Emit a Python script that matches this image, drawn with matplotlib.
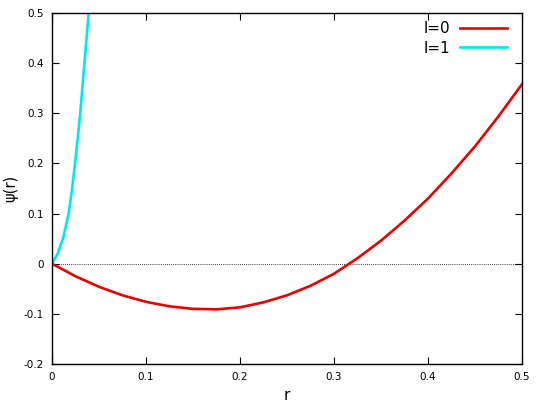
import matplotlib
matplotlib.use("Agg")
import matplotlib.pyplot as plt

# dane
r_l0 = [0.0, 0.025, 0.05, 0.075, 0.1, 0.125, 0.15, 0.175, 0.2, 0.225, 0.25,
        0.275, 0.3, 0.325, 0.35, 0.375, 0.4, 0.425, 0.45, 0.475, 0.5]
psi_l0 = [0.0, -0.025, -0.046, -0.063, -0.076, -0.085, -0.090, -0.091, -0.087, -0.077, -0.063,
          -0.044, -0.020, 0.011, 0.046, 0.086, 0.130, 0.180, 0.234, 0.294, 0.358]

r_l1 = [0.0, 0.006, 0.012, 0.0177, 0.0213, 0.0245, 0.0272, 0.030, 0.0345, 0.039, 0.0435]
psi_l1 = [0.0, 0.02, 0.052, 0.1, 0.148, 0.2, 0.247, 0.3, 0.4, 0.5, 0.6]

x_ticks = [0, 0.1, 0.2, 0.3, 0.4, 0.5]
y_ticks = [-0.2, -0.1, 0, 0.1, 0.2, 0.3, 0.4, 0.5]

fig = plt.figure(figsize=(5.4, 4.05), dpi=100)
ax = fig.add_axes([0.0963, 0.1012, 0.8704, 0.8667])

ax.axhline(0, color='black', linestyle=(0, (1, 1.5)), linewidth=0.6)
ax.plot(r_l0, psi_l0, color='#e80000', linewidth=1.9, label='l=0')
ax.plot(r_l1, psi_l1, color='#00e8e8', linewidth=1.9, label='l=1')

ax.set_xlim(0, 0.5)
ax.set_ylim(-0.2, 0.5)
ax.set_xticks(x_ticks)
ax.set_xticklabels(['0', '0.1', '0.2', '0.3', '0.4', '0.5'])
ax.set_yticks(y_ticks)
ax.set_yticklabels(['-0.2', '-0.1', '0', '0.1', '0.2', '0.3', '0.4', '0.5'])
ax.tick_params(direction='in', length=5, width=0.8, labelsize=7.5,
               top=True, right=True, pad=6)
for s in ax.spines.values():
    s.set_linewidth(1.0)

ax.set_xlabel('r', fontsize=11, labelpad=4)
ax.set_ylabel('ψ(r)', fontsize=10.5)
ax.yaxis.set_label_coords(-0.072, 0.5)

ax.legend(loc='upper right', bbox_to_anchor=(0.981, 0.994), borderaxespad=0,
          frameon=False, markerfirst=False, fontsize=11,
          handlelength=3.1, handletextpad=0.6, labelspacing=0.3)

fig.savefig('out.png', dpi=100)
